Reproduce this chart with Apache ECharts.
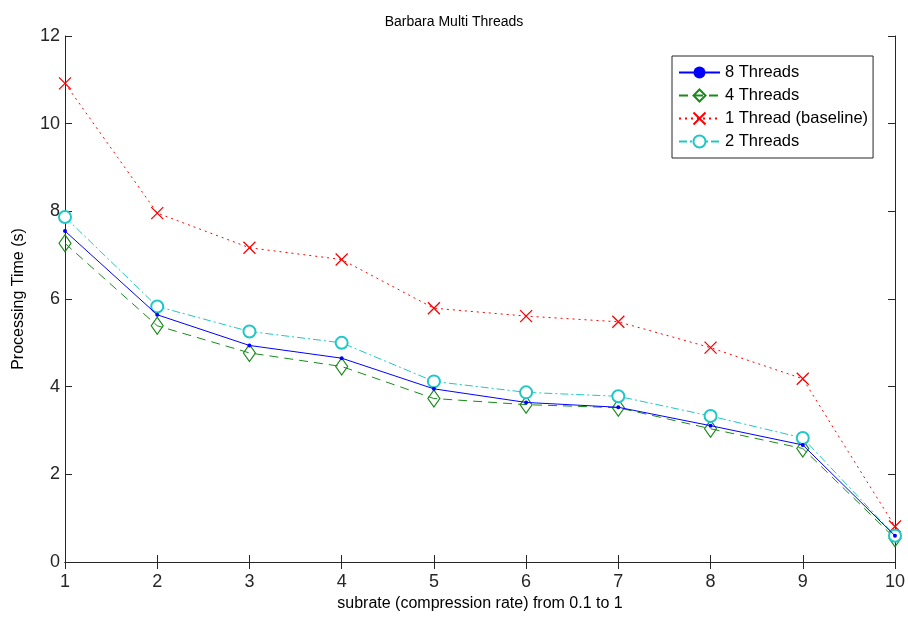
<!DOCTYPE html>
<html>
<head>
<meta charset="utf-8">
<script src="https://cdn.jsdelivr.net/npm/echarts@6/dist/echarts.min.js"></script>
<style>
  html, body { margin: 0; padding: 0; background: #fff; }
  #chart { width: 908px; height: 619px; }
</style>
</head>
<body>
<div id="chart"></div>
<script>
// subrate steps 1..10
const subrates = [1, 2, 3, 4, 5, 6, 7, 8, 9, 10]
const yTicks = [0, 2, 4, 6, 8, 10, 12]

// processing time (s)
const threads8 = [7.55, 5.64, 4.94, 4.65, 3.95, 3.64, 3.53, 3.11, 2.67, 0.60]
const threads4 = [7.27, 5.39, 4.77, 4.46, 3.73, 3.59, 3.52, 3.04, 2.59, 0.54]
const threads1 = [10.92, 7.96, 7.17, 6.90, 5.79, 5.61, 5.48, 4.89, 4.18, 0.81]
const threads2 = [7.87, 5.83, 5.26, 5.00, 4.12, 3.87, 3.78, 3.33, 2.83, 0.60]

const axisColor = '#262626'
const font = 'Liberation Sans, Arial, sans-serif'

const toPairs = arr => arr.map((v, i) => [subrates[i], v])

const chart = echarts.init(document.getElementById('chart'))

// top / right box lines with inward ticks, no labels
const boxAxis = {
  axisLine: { show: true, lineStyle: { color: axisColor, width: 1 } },
  axisTick: { show: true, inside: true, length: 7, lineStyle: { color: axisColor } },
  axisLabel: { show: false },
  splitLine: { show: false }
}

chart.setOption({
  animation: false,
  title: {
    text: 'Barbara Multi Threads',
    left: 'center',
    top: 10,
    textStyle: { fontFamily: font, fontSize: 14, fontWeight: 'normal', color: '#000' }
  },
  legend: {
    orient: 'vertical',
    left: 672,
    top: 56,
    itemGap: 6,
    itemWidth: 41,
    itemHeight: 15,
    padding: [8, 5, 8, 6],
    borderColor: axisColor,
    borderWidth: 1,
    backgroundColor: '#fff',
    textStyle: { fontFamily: font, fontSize: 16.5, color: '#000' },
    data: ['8 Threads', '4 Threads', '1 Thread (baseline)', '2 Threads']
  },
  grid: { left: 65, right: 12, top: 36, bottom: 57 },
  xAxis: [
    {
      type: 'value',
      min: 1,
      max: 10,
      interval: 1,
      name: 'subrate (compression rate) from 0.1 to 1',
      nameLocation: 'middle',
      nameGap: 34,
      nameTextStyle: { fontFamily: font, fontSize: 16, color: '#000' },
      axisLine: { show: true, lineStyle: { color: axisColor } },
      axisTick: { show: true, inside: true, length: 7, lineStyle: { color: axisColor } },
      axisLabel: { fontFamily: font, fontSize: 18, color: axisColor, margin: 11 },
      splitLine: { show: false }
    },
    Object.assign({ type: 'value', min: 1, max: 10, interval: 1, position: 'top' }, boxAxis)
  ],
  yAxis: [
    {
      type: 'value',
      min: yTicks[0],
      max: yTicks[yTicks.length - 1],
      interval: 2,
      name: 'Processing Time (s)',
      nameLocation: 'middle',
      nameGap: 38,
      nameTextStyle: { fontFamily: font, fontSize: 16, color: '#000' },
      axisLine: { show: true, lineStyle: { color: axisColor } },
      axisTick: { show: true, inside: true, length: 7, lineStyle: { color: axisColor } },
      axisLabel: { fontFamily: font, fontSize: 18, color: axisColor, margin: 5 },
      splitLine: { show: false }
    },
    Object.assign({ type: 'value', min: 0, max: 12, interval: 2, position: 'right' }, boxAxis)
  ],
  series: [
    {
      name: '8 Threads',
      type: 'line',
      data: toPairs(threads8),
      symbol: 'circle',
      symbolSize: 4,
      showAllSymbol: true,
      lineStyle: { color: '#0000ff', width: 1, type: 'solid' },
      itemStyle: { color: '#0000ff' },
      z: 5
    },
    {
      name: '4 Threads',
      type: 'line',
      data: toPairs(threads4),
      symbol: 'path://M5,0L10,8L5,16L0,8Z',
      symbolSize: [12, 17],
      lineStyle: { color: '#1a8a1a', width: 1, type: [9, 6] },
      itemStyle: { color: 'rgba(0,0,0,0)', borderColor: '#1a8a1a', borderWidth: 1.2 },
      z: 3
    },
    {
      name: '1 Thread (baseline)',
      type: 'line',
      data: toPairs(threads1),
      symbol: 'path://M0,0L10,10M10,0L0,10',
      symbolSize: 12,
      lineStyle: { color: '#ff0000', width: 1, type: [2, 4] },
      itemStyle: { color: 'rgba(0,0,0,0)', borderColor: '#ff0000', borderWidth: 1.3 },
      z: 2
    },
    {
      name: '2 Threads',
      type: 'line',
      data: toPairs(threads2),
      symbol: 'emptyCircle',
      symbolSize: 12,
      lineStyle: { color: '#1fc7c7', width: 1, type: [8, 3, 2, 3] },
      itemStyle: { color: '#1fc7c7', borderColor: '#1fc7c7', borderWidth: 1.2 },
      z: 4
    }
  ]
})
</script>
</body>
</html>
